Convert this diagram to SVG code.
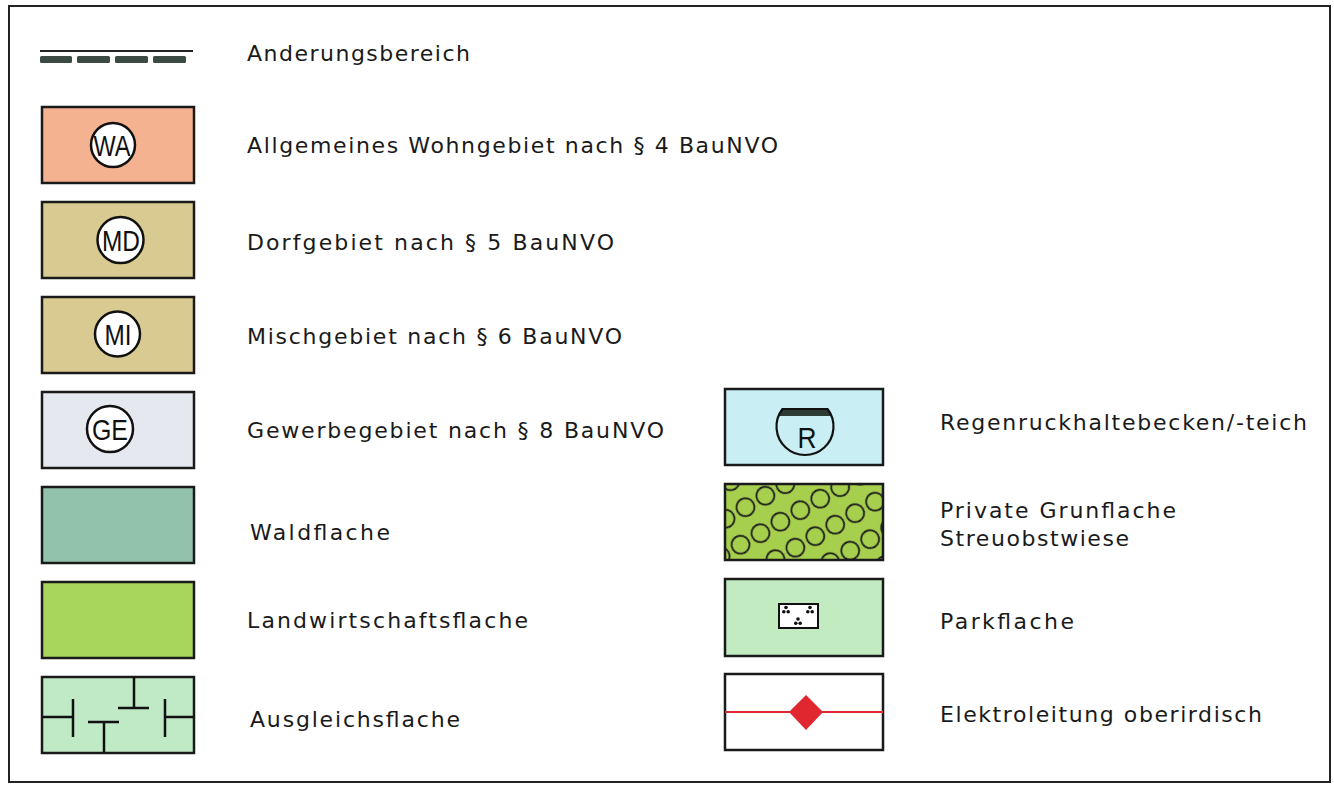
<svg xmlns="http://www.w3.org/2000/svg" width="1334" height="787" viewBox="0 0 1334 787">
<style>
.box{stroke:#1a1a1a;stroke-width:2.5}
.lbl{font-family:"DejaVu Sans","Liberation Sans",sans-serif;font-size:22px;fill:#1a1a1a}
.sym{font-family:"Liberation Sans Narrow","Liberation Sans",sans-serif;font-size:30px;fill:#111;text-anchor:middle}
.circ{fill:#fff;stroke:#111;stroke-width:2.5}
.ln{stroke:#111;stroke-width:2.5;fill:none}
</style>
<defs>
<pattern id="obst" patternUnits="userSpaceOnUse" x="0" y="0" width="23" height="30" patternTransform="translate(728 500) rotate(-30)">
<rect x="-1" y="-1" width="25" height="32" fill="#a6cf4e"/>
<circle cx="11.5" cy="15" r="9" fill="none" stroke="#1a1a1a" stroke-width="1.8"/>
</pattern>
</defs>
<rect x="0" y="0" width="1334" height="787" fill="#fff"/>
<rect x="9" y="6" width="1321" height="776" fill="none" stroke="#222" stroke-width="2"/>

<g id="aenderung">
<line x1="40" y1="51" x2="193" y2="51" stroke="#222" stroke-width="1.8"/>
<g fill="#3c4a44">
<rect x="40" y="56" width="32" height="7" rx="1.5"/>
<rect x="77" y="56" width="33" height="7" rx="1.5"/>
<rect x="115" y="56" width="33" height="7" rx="1.5"/>
<rect x="153" y="56" width="33" height="7" rx="1.5"/>
</g>
<text class="lbl" x="247" y="61" textLength="223" lengthAdjust="spacing">Anderungsbereich</text>
</g>

<g id="wa">
<rect class="box" x="42" y="107" width="152" height="76" fill="#f4b291"/>
<circle class="circ" cx="113" cy="145" r="22"/>
<text class="sym" x="112" y="156" textLength="37" lengthAdjust="spacingAndGlyphs">WA</text>
<text class="lbl" x="247" y="153" textLength="531" lengthAdjust="spacing">Allgemeines Wohngebiet nach § 4 BauNVO</text>
</g>

<g id="md">
<rect class="box" x="42" y="202" width="152" height="76" fill="#d9ca92"/>
<circle class="circ" cx="120.5" cy="240" r="23"/>
<text class="sym" x="121" y="251" font-size="31" textLength="38" lengthAdjust="spacingAndGlyphs">MD</text>
<text class="lbl" x="247" y="250" textLength="367" lengthAdjust="spacing">Dorfgebiet nach § 5 BauNVO</text>
</g>

<g id="mi">
<rect class="box" x="42" y="297" width="152" height="76" fill="#d9ca92"/>
<circle class="circ" cx="117.5" cy="334" r="22.5"/>
<text class="sym" x="118" y="345" font-size="31" textLength="27" lengthAdjust="spacingAndGlyphs">MI</text>
<text class="lbl" x="247" y="344" textLength="375" lengthAdjust="spacing">Mischgebiet nach § 6 BauNVO</text>
</g>

<g id="ge">
<rect class="box" x="42" y="392" width="152" height="76" fill="#e6e8f0"/>
<circle class="circ" cx="110" cy="429" r="23"/>
<text class="sym" x="110" y="440" font-size="30" textLength="36" lengthAdjust="spacingAndGlyphs">GE</text>
<text class="lbl" x="247" y="438" textLength="417" lengthAdjust="spacing">Gewerbegebiet nach § 8 BauNVO</text>
</g>

<g id="wald">
<rect class="box" x="42" y="487" width="152" height="76" fill="#92c2ac"/>
<text class="lbl" x="250" y="540" textLength="140" lengthAdjust="spacing">Waldflache</text>
</g>

<g id="landw">
<rect class="box" x="42" y="582" width="152" height="76" fill="#a8d55c"/>
<text class="lbl" x="247" y="628" textLength="281" lengthAdjust="spacing">Landwirtschaftsflache</text>
</g>

<g id="ausgleich">
<rect class="box" x="42" y="677" width="152" height="76" fill="#c0e9c6"/>
<path class="ln" d="M134 677V708M118 708H149M42 717H73M73 699V737M165 699V737M165 717H194M88 722H119M104 722V753"/>
<text class="lbl" x="250" y="727" textLength="210" lengthAdjust="spacing">Ausgleichsflache</text>
</g>

<g id="regen">
<rect class="box" x="725" y="389" width="158" height="76" fill="#c9eff5"/>
<path d="M782.5 409 H827.5 A28.5 28.5 0 0 1 831.3 416 H778.7 A28.5 28.5 0 0 1 782.5 409 Z" fill="#2e3a34"/>
<path d="M782.5 409 A28.5 28.5 0 1 0 827.5 409 Z" fill="none" stroke="#111" stroke-width="2.2"/>
<text class="sym" x="807" y="448" font-size="34" textLength="19" lengthAdjust="spacingAndGlyphs">R</text>
<text class="lbl" x="940" y="430" textLength="367" lengthAdjust="spacing">Regenruckhaltebecken/-teich</text>
</g>

<g id="streuobst">
<rect class="box" x="725" y="484" width="158" height="76" fill="url(#obst)"/>
<text class="lbl" x="940" y="518" textLength="236" lengthAdjust="spacing">Private Grunflache</text>
<text class="lbl" x="940" y="546" textLength="189" lengthAdjust="spacing">Streuobstwiese</text>
</g>

<g id="park">
<rect class="box" x="725" y="579" width="158" height="77" fill="#c2ebc2"/>
<rect x="779" y="604" width="39" height="24" fill="#fff" stroke="#111" stroke-width="2"/>
<g fill="#111">
<circle cx="786" cy="607.5" r="1.8"/><circle cx="783.8" cy="611.8" r="1.8"/><circle cx="788.2" cy="611.8" r="1.8"/>
<circle cx="810" cy="607.5" r="1.8"/><circle cx="807.8" cy="611.8" r="1.8"/><circle cx="812.2" cy="611.8" r="1.8"/>
<circle cx="798" cy="619" r="1.8"/><circle cx="795.8" cy="623.3" r="1.8"/><circle cx="800.2" cy="623.3" r="1.8"/>
</g>
<text class="lbl" x="940" y="629" textLength="134" lengthAdjust="spacing">Parkflache</text>
</g>

<g id="elektro">
<rect class="box" x="725" y="674" width="158" height="76" fill="#fff"/>
<line x1="725" y1="712" x2="883" y2="712" stroke="#e0262e" stroke-width="2"/>
<polygon points="806,695 823,712 806,730 789,712" fill="#e0262e"/>
<text class="lbl" x="940" y="722" textLength="322" lengthAdjust="spacing">Elektroleitung oberirdisch</text>
</g>
</svg>
